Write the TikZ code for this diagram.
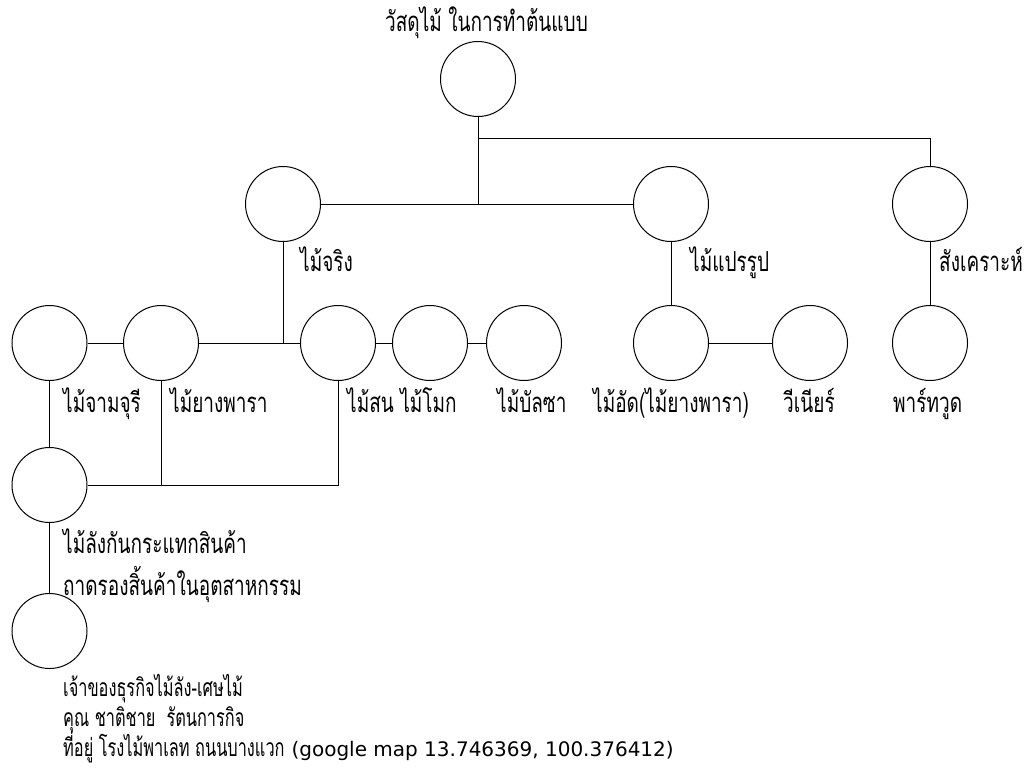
\documentclass[tikz,border=0pt]{standalone}
\usepackage{graphicx}
\usepackage{fontspec}
\newfontfamily\thaifont[Script=Thai]{Loma}
\newfontfamily\latinfont{DejaVu Sans}
\newcommand{\tallthai}[1]{\scalebox{1}[1.45]{#1}}
\newcommand{\bottomthai}[1]{\scalebox{0.86}[1.3]{#1}}
\begin{document}
\begin{tikzpicture}[x=1pt,y=-1pt,
  ball/.style={circle,draw,line width=1pt,minimum size=75pt,inner sep=0pt},
  lbl/.style={anchor=base west,inner sep=0pt,font=\thaifont\fontsize{19}{23}\selectfont},
  conn/.style={line width=1pt}]
\useasboundingbox (0,0) rectangle (1032,780);
% circles
\node[ball] (root) at (478,79) {};
\node[ball] (real) at (283,204) {};
\node[ball] (proc) at (671,204) {};
\node[ball] (syn)  at (930,204) {};
\node[ball] (c1) at (49.5,343) {};
\node[ball] (c2) at (161,343) {};
\node[ball] (c3) at (338,343) {};
\node[ball] (c4) at (430,343) {};
\node[ball] (c5) at (524,343) {};
\node[ball] (ply) at (671,343) {};
\node[ball] (ven) at (810,343) {};
\node[ball] (part) at (930,343) {};
\node[ball] (c6) at (49.5,485) {};
\node[ball] (c7) at (49.5,631) {};
% junctions
\coordinate (jtop) at (478,138);
\coordinate (jmid) at (root.south |- real.east);
\coordinate (jrow) at (real.south |- c1.east);
\coordinate (jlow) at (c3.south |- c6.east);
\coordinate (jlow2) at (c2.south |- c6.east);
% connectors
\draw[conn] (root.south) -- (jmid);
\draw[conn] (jtop) -| (syn.north);
\draw[conn] (real.east) -- (proc.west);
\draw[conn] (real.south) -- (jrow);
\draw[conn] (c1.east) -- (c2.west);
\draw[conn] (c2.east) -- (c3.west);
\draw[conn] (c3.east) -- (c4.west);
\draw[conn] (c4.east) -- (c5.west);
\draw[conn] (c1.south) -- (c6.north);
\draw[conn] (c2.south) -- (jlow2);
\draw[conn] (c6.east) -- (jlow) -- (c3.south);
\draw[conn] (c6.south) -- (c7.north);
\draw[conn] (proc.south) -- (ply.north);
\draw[conn] (ply.east) -- (ven.west);
\draw[conn] (syn.south) -- (part.north);
% labels
\node[lbl] (title) at (385,31.7) {\tallthai{วัสดุไม้ ในการทำต้นแบบ}};
\node[lbl] (lreal) at (300,271.7) {\tallthai{ไม้จริง}};
\node[lbl] (lproc) at (690,271.7) {\tallthai{ไม้แปรรูป}};
\node[lbl] (lsyn) at (939,271.7) {\tallthai{สังเคราะห์}};
\node[lbl] (l1) at (63,412) {\tallthai{ไม้จามจุรี}};
\node[lbl] (l2) at (170,412) {\tallthai{ไม้ยางพารา}};
\node[lbl] (l3) at (347,412) {\tallthai{ไม้สน ไม้โมก}};
\node[lbl] (l5) at (497,412) {\tallthai{ไม้บัลซา}};
\node[lbl] (lply) at (593,412) {\tallthai{ไม้อัด(ไม้ยางพารา)}};
\node[lbl] (lven) at (783,412) {\tallthai{วีเนียร์}};
\node[lbl] (lpart) at (893,412) {\tallthai{พาร์ทวูด}};
\node[lbl] (l6a) at (63,553) {\tallthai{ไม้ลังกันกระแทกสินค้า}};
\node[lbl] (l6b) at (63,595) {\tallthai{ถาดรองสิ้นค้าในอุตสาหกรรม}};
\node[lbl] (l7a) at (63,696) {\bottomthai{เจ้าของธุรกิจไม้ลัง-เศษไม้}};
\node[lbl] (l7b) at (63,726) {\bottomthai{คุณ ชาติชาย\ \ รัตนการกิจ}};
\node[lbl] (l7c) at (63,756.7) {\bottomthai{ที่อยู่ โรงไม้พาเลท ถนนบางแวก}\hspace{7pt}{\latinfont\fontsize{20}{24}\selectfont(google map 13.746369, 100.376412)}};
\end{tikzpicture}
\end{document}
